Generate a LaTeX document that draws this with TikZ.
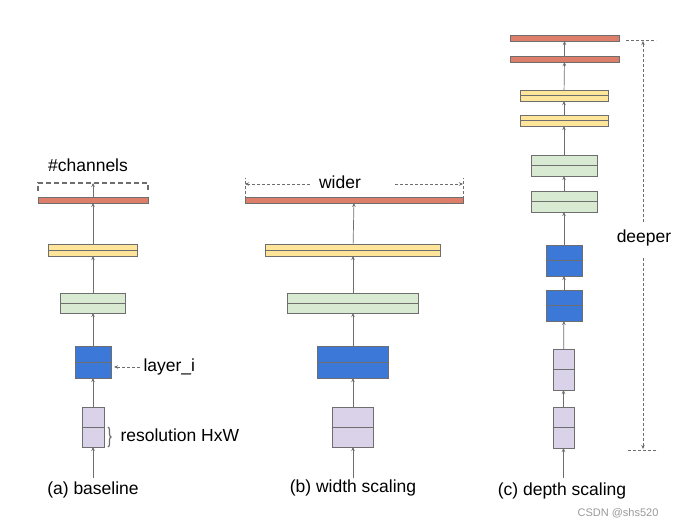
\documentclass[tikz,border=0pt]{standalone}
\usepackage{fontspec}
\setmainfont{Liberation Sans}
\usepackage{xcolor}
\usetikzlibrary{calc}
\usetikzlibrary{arrows.meta}
\usetikzlibrary{decorations.pathreplacing}
\definecolor{redfill}{HTML}{DD7E6B}
\definecolor{yellowfill}{HTML}{FFE599}
\definecolor{greenfill}{HTML}{D9EAD3}
\definecolor{bluefill}{HTML}{3C78D8}
\definecolor{purplefill}{HTML}{D9D2E9}
\definecolor{edgegray}{HTML}{6E6E6E}
\tikzset{
  every node/.style = {font = \fontsize{17.5}{21}\selectfont}
}
\tikzset{
    >={Stealth[length=4pt,width=3.5pt]}
}
\tikzset{
  blk/.style = {draw=edgegray, line width=0.8pt, inner sep=0pt, outer sep=0pt},
  flow/.style = {->, draw=edgegray, line width=0.7pt},
  guide/.style = {edgegray, line width=0.7pt, dash pattern=on 3pt off 2pt}
}
% block with a middle line: name, x, y, width, height, fill
\newcommand{\layer}[6]{%
  \node[blk, fill=#6, minimum width=#4pt, minimum height=#5pt] (#1) at (#2,#3) {};
  \draw[edgegray, line width=0.8pt] (#1.west) -- (#1.east);}
% plain bar: name, x, y, width
\newcommand{\topbar}[4]{%
  \node[blk, fill=redfill, minimum width=#4pt, minimum height=6pt] (#1) at (#2,#3) {};}

\begin{document}
\begin{tikzpicture}[x=1pt,y=-1pt]
\useasboundingbox (0,0) rectangle (675,527);

% (a) baseline
\coordinate (a0) at (93,478);
\layer{a1}{93}{427}{22}{40}{purplefill}
\layer{a2}{93}{362}{36}{32}{bluefill}
\layer{a3}{93}{303}{65}{20}{greenfill}
\layer{a4}{93}{250}{89}{12}{yellowfill}
\topbar{a5}{93}{200}{110}
\draw[flow] (a0) -- (a1);
\draw[flow] (a1) -- (a2);
\draw[flow] (a2) -- (a3);
\draw[flow] (a3) -- (a4);
\draw[flow] (a4) -- (a5);

% #channels
\coordinate (ch) at (93,183);
\draw[flow] (a5.north) -- (ch);
\draw[edgegray, line width=1.1pt, dash pattern=on 5pt off 3pt]
  (38,191) -- (38,183) -- (148,183) -- (148,191);
\node (chl) at (88,165) {\#channels};

% layer_i
\node[anchor=west] (li) at (140,367) {layer\_i};
\draw[guide, ->] (li.west) -- ([xshift=3pt]a2.east |- li.west);

% resolution
\draw[edgegray, line width=1.2pt, decorate, decoration={brace, amplitude=3pt}]
  ([xshift=4pt]a1.east) -- ([xshift=4pt]a1.south east);
\node[anchor=west] (res) at (117,435) {resolution HxW};

\node (capa) at (93,490) {(a) baseline};

% (b) width scaling
\coordinate (b0) at (353,478);
\layer{b1}{353}{427}{41}{40}{purplefill}
\layer{b2}{353}{362}{71}{32}{bluefill}
\layer{b3}{353}{303}{131}{20}{greenfill}
\layer{b4}{353}{250}{175}{12}{yellowfill}
\topbar{b5}{354}{200}{218}
\draw[flow] (b0) -- (b1);
\draw[flow] (b1) -- (b2);
\draw[flow] (b2) -- (b3);
\draw[flow] (b3) -- (b4);
\draw[flow] (b4) -- (b5);

% wider
\node (wl) at (340,182) {wider};
\draw[guide] (b5.south west) ++(0,1) -- ++(0,-26);
\draw[guide] (b5.south east) ++(0,1) -- ++(0,-26);
\draw[guide, ->] (310,184) -- (b5.west |- 0,184);
\draw[guide, ->] (395,184) -- (b5.east |- 0,184);

\node (capb) at (353,488) {(b) width scaling};

% (c) depth scaling
\coordinate (c0) at (563.5,478);
\layer{c1}{563.5}{427.5}{21}{41}{purplefill}
\layer{c2}{563.5}{369.5}{21}{41}{purplefill}
\layer{c3}{564}{305.5}{36}{31}{bluefill}
\layer{c4}{564}{260.5}{36}{31}{bluefill}
\layer{c5}{564}{201.5}{66}{21}{greenfill}
\layer{c6}{564}{165.5}{66}{21}{greenfill}
\layer{c7}{564}{120.5}{88}{11}{yellowfill}
\layer{c8}{564}{95.5}{88}{11}{yellowfill}
\topbar{c9}{564.5}{59}{109}
\topbar{c10}{564.5}{38}{109}
\draw[flow] (c0) -- (c1);
\draw[flow] (c1) -- (c2);
\draw[flow] (c2) -- (c3);
\draw[flow] (c3) -- (c4);
\draw[flow] (c4) -- (c5);
\draw[flow] (c5) -- (c6);
\draw[flow] (c6) -- (c7);
\draw[flow] (c7) -- (c8);
\draw[flow] (c8) -- (c9);
\draw[flow] (c9) -- (c10);

% deeper
\node (dl) at (644,238) {deeper};
\draw[guide] (626,40) -- (656,40);
\draw[guide] (628,450) -- (658,450);
\draw[guide, ->] (643,222) -- (643,41);
\draw[guide, ->] (643,258) -- (643,449);

\node (capc) at (562,491) {(c) depth scaling};
\node[font=\fontsize{11}{13}\selectfont, text=gray!80] (mark) at (618,513) {CSDN @shs520};
\end{tikzpicture}
\end{document}
